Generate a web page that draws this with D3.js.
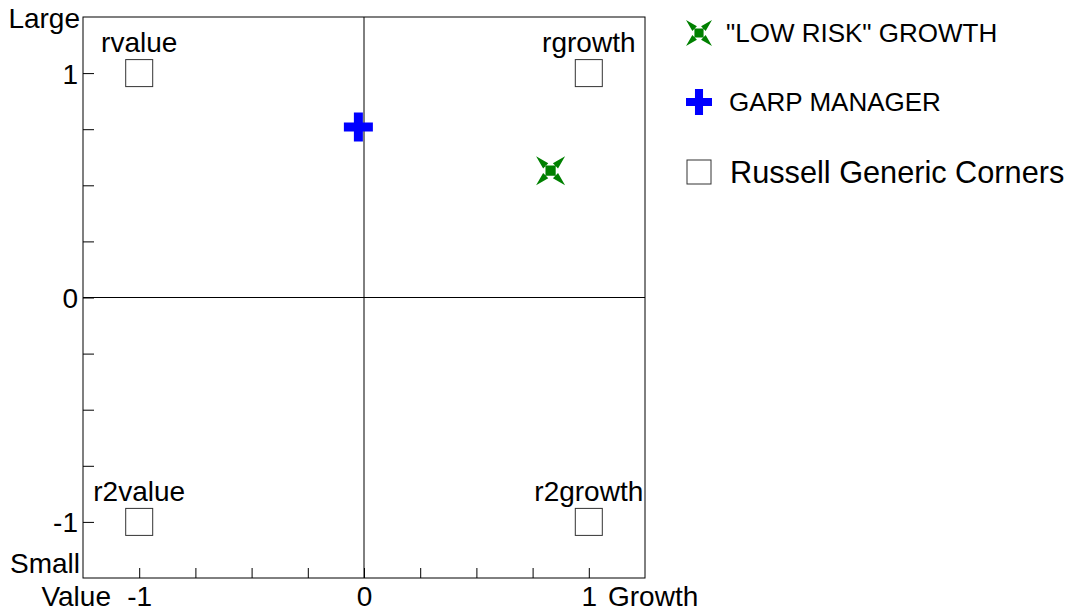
<!DOCTYPE html>
<html>
<head>
<meta charset="utf-8">
<script src="https://cdn.jsdelivr.net/npm/d3@7"></script>
<style>
  html, body { margin: 0; padding: 0; background: #fff; }
  svg { display: block; font-family: "Liberation Sans", Arial, sans-serif; }
</style>
</head>
<body>
<svg id="chart" width="1070" height="613"></svg>
<script>
// ---- data ----
const cornerNames = ["rvalue", "rgrowth", "r2value", "r2growth"];
const cornerX = [-1, 1, -1, 1];
const cornerY = [1, 1, -1, -1];

const managerNames = ["\"LOW RISK\" GROWTH", "GARP MANAGER"];
const managerX = [0.83, -0.025];
const managerY = [0.565, 0.76];
const managerColors = ["#008000", "#0000ff"];
const managerShapes = ["star", "cross"];

const legendLabels = ["\"LOW RISK\" GROWTH", "GARP MANAGER", "Russell Generic Corners"];

const xTickValues = [-1, -0.75, -0.5, -0.25, 0, 0.25, 0.5, 0.75, 1];
const yTickValues = [-1, -0.75, -0.5, -0.25, 0, 0.25, 0.5, 0.75, 1];
const labeledTicks = [-1, 0, 1];
const xEndLabels = ["Value", "Growth"];
const yEndLabels = ["Small", "Large"];

// ---- layout ----
const svg = d3.select("#chart");
const pLeft = 83, pRight = 645, pTop = 17, pBottom = 578;
const x = d3.scaleLinear().domain([-1.25, 1.25]).range([pLeft, pRight]);
const y = d3.scaleLinear().domain([-1.25, 1.25]).range([pBottom, pTop]);

const fmt = d => labeledTicks.includes(d) ? String(d) : "";

// x axis (ticks pointing into the plot)
const gx = svg.append("g")
  .attr("transform", `translate(0,${pBottom})`)
  .call(d3.axisBottom(x).tickValues(xTickValues).tickSizeInner(-10).tickSizeOuter(0).tickPadding(18).tickFormat(fmt));
gx.select(".domain").remove();
gx.selectAll("line").attr("stroke", "#000");
gx.selectAll("text").attr("font-size", 28).attr("fill", "#000").attr("font-family", "Liberation Sans, Arial, sans-serif")
  .attr("dy", "0.36em");

// y axis
const gy = svg.append("g")
  .attr("transform", `translate(${pLeft},0)`)
  .call(d3.axisLeft(y).tickValues(yTickValues).tickSizeInner(-11).tickSizeOuter(0).tickPadding(5).tickFormat(fmt));
gy.select(".domain").remove();
gy.selectAll("line").attr("stroke", "#000");
gy.selectAll("text").attr("font-size", 28).attr("fill", "#000").attr("font-family", "Liberation Sans, Arial, sans-serif")
  .attr("dy", "0.36em");

// frame and zero lines
svg.append("rect")
  .attr("x", pLeft).attr("y", pTop).attr("width", pRight - pLeft).attr("height", pBottom - pTop)
  .attr("fill", "none").attr("stroke", "#000").attr("stroke-width", 1);
svg.append("line").attr("x1", x(0)).attr("x2", x(0)).attr("y1", pTop).attr("y2", pBottom).attr("stroke", "#000");
svg.append("line").attr("x1", pLeft).attr("x2", pRight).attr("y1", y(0)).attr("y2", y(0)).attr("stroke", "#000");

// axis end labels
svg.append("text").attr("x", 111).attr("y", 596).attr("dy", "0.36em").attr("text-anchor", "end")
  .attr("font-size", 28).text(xEndLabels[0]);
svg.append("text").attr("x", 608).attr("y", 596).attr("dy", "0.36em").attr("text-anchor", "start")
  .attr("font-size", 28).text(xEndLabels[1]);
svg.append("text").attr("x", 80).attr("y", 563).attr("dy", "0.36em").attr("text-anchor", "end")
  .attr("font-size", 28).text(yEndLabels[0]);
svg.append("text").attr("x", 80).attr("y", 18).attr("dy", "0.36em").attr("text-anchor", "end")
  .attr("font-size", 28).text(yEndLabels[1]);

// marker shapes
function crossPath(s, t) {
  const a = s / 2, b = t / 2;
  return `M${-a},${-b}H${-b}V${-a}H${b}V${-b}H${a}V${b}H${b}V${a}H${-b}V${b}H${-a}Z`;
}
function starPath(s) {
  const r = s / 2, c = s * 0.16;
  return `M${-c * 1.1},${-c * 1.1}H${c * 1.1}V${c * 1.1}H${-c * 1.1}Z` +
         `M${-r},${-r}L${-c * 1.6},${-c * 0.5}L${-c * 0.5},${-c * 1.6}Z` +
         `M${r},${-r}L${c * 1.6},${-c * 0.5}L${c * 0.5},${-c * 1.6}Z` +
         `M${r},${r}L${c * 1.6},${c * 0.5}L${c * 0.5},${c * 1.6}Z` +
         `M${-r},${r}L${-c * 1.6},${c * 0.5}L${-c * 0.5},${c * 1.6}Z`;
}
function markerPath(shape, size) {
  return shape === "cross" ? crossPath(size, size * 0.31) : starPath(size);
}

// corners
const sq = 27;
const corners = svg.append("g").selectAll("g").data(cornerNames).join("g")
  .attr("transform", (d, i) => `translate(${x(cornerX[i])},${y(cornerY[i])})`);
corners.append("rect").attr("x", -sq / 2).attr("y", -sq / 2).attr("width", sq).attr("height", sq)
  .attr("fill", "#fff").attr("stroke", "#333").attr("stroke-width", 1);
corners.append("text").attr("y", -21).attr("text-anchor", "middle").attr("font-size", 28).text(d => d);

// managers
svg.append("g").selectAll("path").data(managerNames).join("path")
  .attr("transform", (d, i) => `translate(${x(managerX[i])},${y(managerY[i])})`)
  .attr("d", (d, i) => markerPath(managerShapes[i], 29))
  .attr("fill", (d, i) => managerColors[i]);

// legend
const legY = [33, 102, 172];
const legend = svg.append("g").selectAll("g").data(legendLabels).join("g")
  .attr("transform", (d, i) => `translate(699,${legY[i]})`);
legend.each(function (d, i) {
  const g = d3.select(this);
  if (i < 2) {
    g.append("path").attr("d", markerPath(managerShapes[i], 26)).attr("fill", managerColors[i]);
  } else {
    g.append("rect").attr("x", -12).attr("y", -12).attr("width", 24).attr("height", 24)
      .attr("fill", "#fff").attr("stroke", "#333");
  }
});
legend.append("text")
  .attr("x", (d, i) => [27, 30, 31][i])
  .attr("dy", "0.36em")
  .attr("font-size", (d, i) => [26, 26, 30.7][i])
  .text(d => d);
</script>
</body>
</html>
